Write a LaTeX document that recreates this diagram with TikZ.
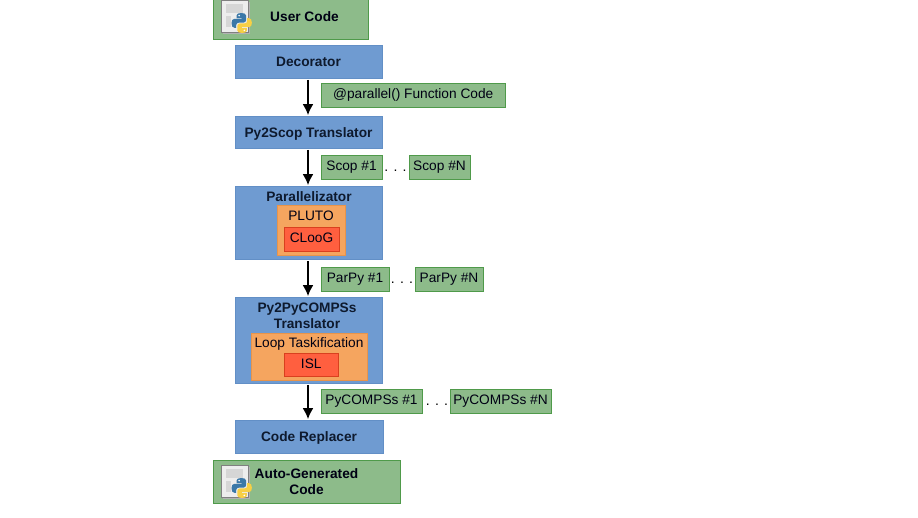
\documentclass[tikz,border=0pt]{standalone}
\usepackage{fontspec}
\setmainfont{Liberation Sans}
\usetikzlibrary{arrows.meta}
\definecolor{gfill}{HTML}{8DBB8A}
\definecolor{gline}{HTML}{4F9A4A}
\definecolor{bfill}{HTML}{6F9BD1}
\definecolor{bline}{HTML}{628FC6}
\definecolor{ofill}{HTML}{F5A55F}
\definecolor{oline}{HTML}{E8944A}
\definecolor{rfill}{HTML}{FF5F3F}
\definecolor{rline}{HTML}{D9401F}
\definecolor{pyblue}{HTML}{3B78A8}
\definecolor{pyyellow}{HTML}{F7CF45}
\definecolor{inkblue}{HTML}{0E1A2E}
\tikzset{
  x=1pt,y=-1pt,
  box/.style={inner sep=0pt,align=center,font=\fontsize{13.7}{15.5}\selectfont,text=black!92!blue,line width=0.6pt,text height=10.6pt,text depth=3pt},
  multi/.style={text height=,text depth=},
  greenbox/.style={box,draw=gline,fill=gfill},
  bluebox/.style={box,draw=bline,fill=bfill,font=\fontsize{13.7}{15.5}\selectfont\bfseries,text=inkblue,text height=12pt,text depth=2pt},
  orangebox/.style={box,draw=oline,fill=ofill},
  redbox/.style={box,draw=rline,fill=rfill},
  flow/.style={-{Latex[length=11pt,width=11pt]},line width=2.2pt,black},
  dotslabel/.style={font=\fontsize{14}{15}\selectfont,text=black,inner sep=0pt},
  page/.style={fill=black!7,draw=black!50,line width=0.6pt},
}
\newcommand{\bx}[7]{%
  \node[#2,minimum width={(#5)*1pt-(#3)*1pt},minimum height={(#6)*1pt-(#4)*1pt}] (#1) at ({((#3)+(#5))/2},{((#4)+(#6))/2}) {#7};}
\newcommand{\snake}{(9.8,0) .. controls (7,0) and (5,0.8) .. (5,2.5) -- (5,5) -- (10,5) -- (10,5.8) -- (3,5.8) .. controls (1,5.8) and (0,7.5) .. (0,10.2) .. controls (0,13) and (1,14.8) .. (3,14.8) -- (4.7,14.8) -- (4.7,12.2) .. controls (4.7,10.5) and (5.8,9.6) .. (7.5,9.6) -- (12,9.6) .. controls (13.5,9.6) and (14.6,8.6) .. (14.6,7) -- (14.6,2.5) .. controls (14.6,0.8) and (12.5,0) .. (9.8,0) -- cycle}
\newcommand{\pyicon}[2]{%
  \begin{scope}[shift={(#1,#2)}]
    \fill[black!30] (1.5,1.5) rectangle (28.5,33.5);
    \draw[page] (0,0) rectangle (27,32);
    \fill[black!16] (5,4) rectangle (22,13);
    \fill[black!16] (5,16) rectangle (10,27);
    \begin{scope}[shift={(10.5,13)}]
      \fill[pyblue] \snake;
      \fill[white] (7.6,2.6) circle (0.9);
      \begin{scope}[rotate around={180:(10.2,10)}]
        \fill[pyyellow] \snake;
        \fill[white] (7.6,2.6) circle (0.9);
      \end{scope}
    \end{scope}
  \end{scope}}
\begin{document}
\begin{tikzpicture}
\useasboundingbox (0,0) rectangle (918,517);
\bx{user}{greenbox,font=\fontsize{13.7}{15.5}\selectfont\bfseries}{213}{-3}{368}{39}{\hspace*{28pt}User Code}
\pyicon{221}{0}
\bx{dec}{bluebox}{235}{45}{382}{78}{Decorator}
\bx{par}{greenbox}{321}{83}{505.5}{107}{@parallel() Function Code}
\bx{p2s}{bluebox}{235}{116}{382}{148}{Py2Scop Translator}
\bx{s1}{greenbox}{321}{155}{382}{179}{Scop \#1}
\bx{sn}{greenbox}{409}{155}{470}{179}{Scop \#N}
\node[dotslabel] (d1) at (395.5,171) {. . .};
\bx{pz}{bluebox}{235}{186}{382}{259.5}{}
\node[bluebox,draw=none,fill=none] (pzt) at (309,196) {Parallelizator};
\bx{pluto}{orangebox}{277}{205}{345}{255}{}
\node[box] (plutot) at (311,217) {PLUTO};
\bx{cloog}{redbox}{284}{227}{339}{251}{CLooG}
\bx{pp1}{greenbox}{321}{267}{389}{291}{ParPy \#1}
\bx{ppn}{greenbox}{415}{267}{483}{291}{ParPy \#N}
\node[dotslabel] (d2) at (402,283) {. . .};
\bx{p2p}{bluebox}{235}{297}{382}{383}{}
\node[bluebox,multi,draw=none,fill=none] (p2pt) at (307,316) {Py2PyCOMPSs\\Translator};
\bx{loop}{orangebox}{251}{333}{367.5}{380}{}
\node[box] (loopt) at (309,344) {Loop Taskification};
\bx{isl}{redbox}{284}{353}{338.5}{376}{ISL}
\bx{pc1}{greenbox}{321}{389}{422}{413}{PyCOMPSs \#1}
\bx{pcn}{greenbox}{450}{389}{551}{413}{PyCOMPSs \#N}
\node[dotslabel] (d3) at (437,405) {. . .};
\bx{rep}{bluebox}{235}{420}{383}{453}{Code Replacer}
\bx{auto}{greenbox,multi,font=\fontsize{13.7}{15.5}\selectfont\bfseries}{213}{460}{400}{503}{Auto-Generated\\Code}
\pyicon{221}{465}
\draw[flow,shorten >=0.5pt,shorten <=1.5pt] (dec.south -| 308,78) -- (p2s.north -| 308,116);
\draw[flow,shorten >=0.5pt,shorten <=1.5pt] (p2s.south -| 308,148) -- (pz.north -| 308,186);
\draw[flow,shorten >=0.5pt,shorten <=1.5pt] (pz.south -| 308,259) -- (p2p.north -| 308,297);
\draw[flow,shorten >=0.5pt,shorten <=1.5pt] (p2p.south -| 308,383) -- (rep.north -| 308,420);
\end{tikzpicture}
\end{document}
